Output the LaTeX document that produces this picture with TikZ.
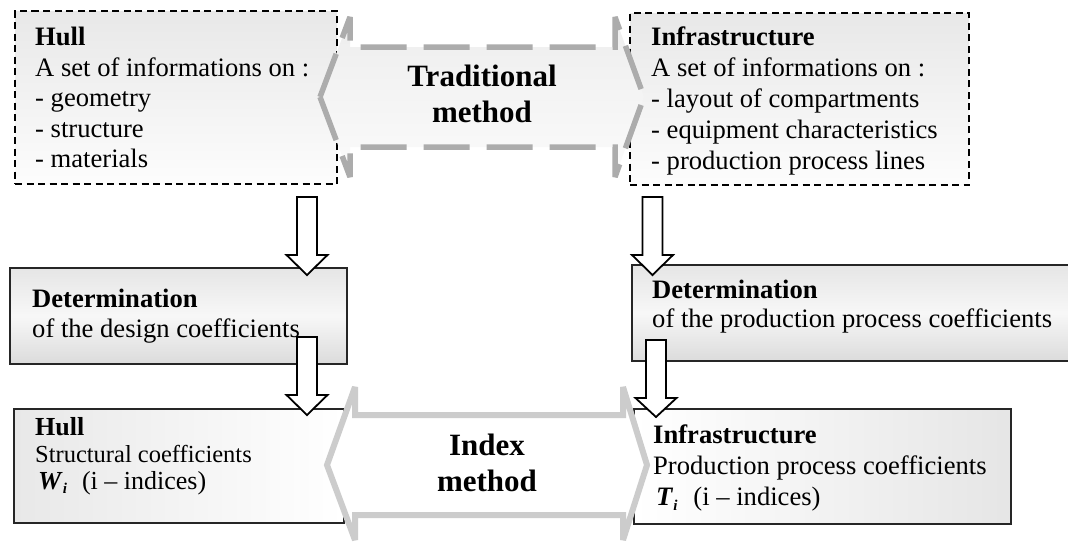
\documentclass[tikz,border=0pt]{standalone}
\usepackage{fontspec}
\setmainfont{Liberation Serif}
\usetikzlibrary{calc}
\newcommand{\dnarrow}[4]{%
  \draw[blockarrow] (#1-10,#2) -- (#1+10,#2) -- (#1+10,#3) -- (#1+20.5,#3) -- (#1,#4)
    -- (#1-20.5,#3) -- (#1-10,#3) -- cycle;}
\newcommand{\subidx}{\raisebox{-4.5pt}{\fontsize{15}{15}\selectfont\textbf{\textit{i}}}}
\begin{document}
\begin{tikzpicture}[x=1pt,y=-1pt,
  dbox/.style={draw=black, line width=2pt, dash pattern=on 7pt off 4.5pt,
    top color=gray!18, bottom color=gray!2, inner sep=0pt, anchor=north west},
  mbox/.style={draw=black!85, line width=2.2pt, top color=gray!20, bottom color=gray!28,
    middle color=gray!6, inner sep=0pt, anchor=north west},
  lbox/.style={draw=black!85, line width=2.2pt, left color=gray!18, right color=white,
    inner sep=0pt, anchor=north west},
  rbox/.style={draw=black!85, line width=2.2pt, left color=white, right color=gray!20,
    inner sep=0pt, anchor=north west},
  txt/.style={anchor=north west, align=left, inner sep=0pt},
  title/.style={font=\bfseries\fontsize{31}{36}\selectfont, align=center, inner sep=0pt},
  blockarrow/.style={draw=black, line width=1.8pt, fill=white, line join=miter},
  tradarrow/.style={draw=gray!65, line width=5.5pt, dash pattern=on 46pt off 17pt,
    top color=gray!14, bottom color=gray!3, line join=miter, miter limit=4},
  idxarrow/.style={draw=gray!40, line width=6pt, fill=white, line join=miter, miter limit=4},
]
\useasboundingbox (0,0) rectangle (1068,542);
\fill[white] (0,0) rectangle (1068,542);

% top boxes
\node[dbox, minimum width=322pt, minimum height=173pt] (hullT) at (14,10) {};
\node[dbox, minimum width=339pt, minimum height=172pt] (infraT) at (629,12) {};
% middle boxes
\node[mbox, minimum width=337pt, minimum height=96pt] (detL) at (9,267) {};
\node[mbox, minimum width=444pt, minimum height=96pt] (detR) at (631,264) {};
% bottom boxes
\node[lbox, minimum width=330pt, minimum height=114pt] (hullB) at (13,408) {};
\node[rbox, minimum width=377pt, minimum height=115pt] (infraB) at (633,408) {};

% texts
\node[txt, font=\fontsize{26.6}{30.5}\selectfont] (t1) at (35,27)
  {\textbf{Hull}\\A set of informations on :\\- geometry\\- structure\\- materials};
\node[txt, font=\fontsize{26.6}{31}\selectfont] (t2) at (651,27)
  {\textbf{Infrastructure}\\A set of informations on :\\- layout of compartments\\- equipment characteristics\\- production process lines};
\node[txt, font=\fontsize{26.6}{30}\selectfont] (t3) at (32,289)
  {\textbf{Determination}\\of the design coefficients};
\node[txt, font=\fontsize{26.6}{29}\selectfont] (t4) at (652,280)
  {\textbf{Determination}\\of the production process coefficients};
\node[txt, font=\fontsize{24.5}{27}\selectfont] (t5) at (35,417)
  {\textbf{\fontsize{26}{27}\selectfont Hull}\\Structural coefficients\\\hspace*{3pt}{\fontsize{26}{27}\selectfont\textbf{\textit{W}}\subidx\hspace{15pt}(i -- indices)}};
\node[txt, font=\fontsize{26.6}{31}\selectfont] (t6) at (653,425)
  {\textbf{Infrastructure}\\Production process coefficients\\\hspace*{3pt}\textbf{\textit{T}}\subidx\hspace{16pt}(i -- indices)};

% traditional method double arrow
\draw[tradarrow] (320,97) -- (350,177) -- (350,147) -- (615,147) -- (615,177) -- (644,97)
  -- (615,17) -- (615,47) -- (350,47) -- (350,17) -- cycle;
\node[title] (trad) at (482,94) {Traditional\\method};

% index method double arrow
\draw[idxarrow] (327,465) -- (355,540) -- (355,515) -- (623,515) -- (623,540) -- (647,465)
  -- (623,387) -- (623,415) -- (355,415) -- (355,387) -- cycle;
\node[title] (idx) at (487,463) {Index\\method};

% block arrows
\dnarrow{307}{197}{255}{275}
\dnarrow{307}{337}{395}{415}
\dnarrow{652.5}{197}{255}{275}
\dnarrow{656}{340}{398}{417}
\end{tikzpicture}
\end{document}
